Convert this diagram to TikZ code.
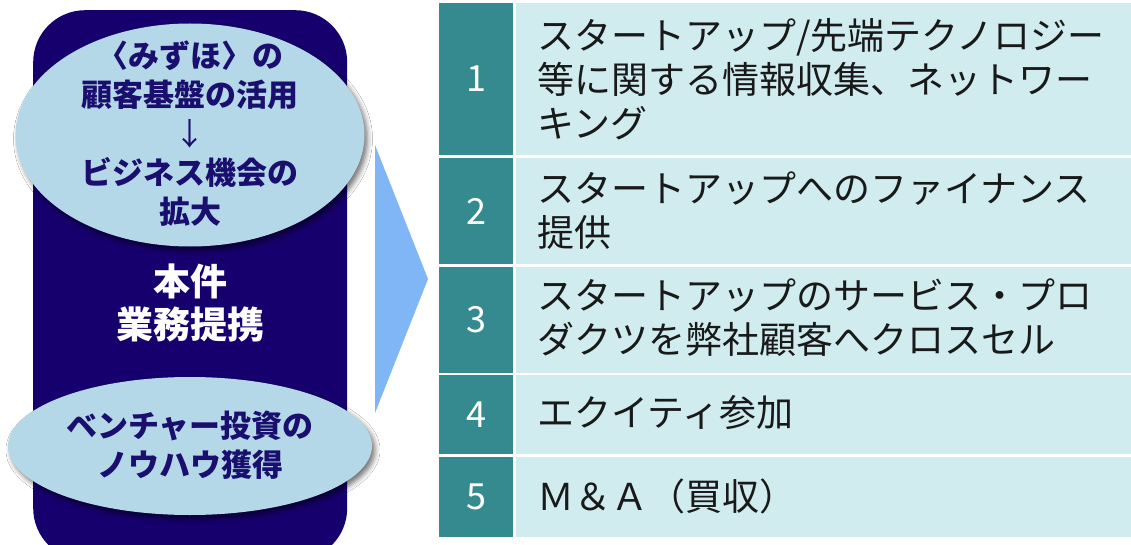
\documentclass[tikz,border=0pt]{standalone}
\usepackage{fontspec}
\setmainfont{Noto Sans CJK JP}
\usetikzlibrary{shapes.geometric,shadows.blur}
\definecolor{navy}{RGB}{22,0,110}
\definecolor{ellblue}{RGB}{180,216,232}
\definecolor{ellink}{RGB}{26,14,110}
\definecolor{tealc}{RGB}{53,138,143}
\definecolor{cellbg}{RGB}{208,236,239}
\definecolor{tric}{RGB}{128,182,245}
\definecolor{ink}{RGB}{25,25,25}
\tikzset{
  darkbox/.style={fill=navy, rounded corners=52pt, inner sep=0pt},
  bubble/.style={ellipse, fill=ellblue, inner sep=0pt,
     blur shadow={shadow xshift=3pt, shadow yshift=-4pt, shadow blur radius=5pt, shadow opacity=55}},
  bubbletext/.style={align=center, text=ellink, inner sep=0pt,
     font=\bfseries\fontsize{31}{39}\selectfont},
  coretext/.style={text=white, align=center, font=\bfseries\fontsize{37}{43}\selectfont},
  numcell/.style={fill=tealc, minimum width=74pt, inner sep=0pt, text=white,
     font=\fontsize{36}{40}\selectfont},
  txtcell/.style={fill=cellbg, minimum width=620pt, inner sep=0pt, anchor=west},
  rowtext/.style={anchor=west, align=left, inner sep=0pt, text=ink,
     font=\fontsize{37}{44}\selectfont},
}
\begin{document}
\begin{tikzpicture}[x=1pt,y=-1pt]
\useasboundingbox (0,0) rectangle (1131,545);
\fill[white] (0,0) rectangle (1131,545);
\clip (0,0) rectangle (1131,545);
% left panel
\node[darkbox, minimum width=314pt, minimum height=550pt, anchor=north west] (box) at (33,10) {};
\node[coretext] (core) at (190,303) {本件\\業務提携};
% arrow triangle
\fill[tric] (375,145) -- (428,279) -- (375,413) -- cycle;
\node[bubble, minimum width=349pt, minimum height=223pt] (top) at (190,135) {};
\node[bubbletext] (toptext) at (190,134) {〈みずほ〉の\\顧客基盤の活用\\{\mdseries ↓}\\ビジネス機会の\\拡大};
\node[bubble, minimum width=364pt, minimum height=138pt] (bot) at (190,446) {};
\node[bubbletext] (bottext) at (190,445) {ベンチャー投資の\\ノウハウ獲得};
% table
\node[numcell, minimum height=152pt] (n1) at (476,79) {1};
\node[numcell, minimum height=106pt] (n2) at (476,211) {2};
\node[numcell, minimum height=106pt] (n3) at (476,320) {3};
\node[numcell, minimum height=79pt] (n4) at (476,414.5) {4};
\node[numcell, minimum height=80pt] (n5) at (476,497) {5};
\node[txtcell, minimum height=152pt] (c1) at (516,79) {};
\node[txtcell, minimum height=106pt] (c2) at (516,211) {};
\node[txtcell, minimum height=106pt] (c3) at (516,320) {};
\node[txtcell, minimum height=79pt] (c4) at (516,414.5) {};
\node[txtcell, minimum height=80pt] (c5) at (516,497) {};
\node[rowtext] (l1) at (537,79) {スタートアップ/先端テクノロジー\\等に関する情報収集、ネットワー\\キング};
\node[rowtext] (l2) at (537,211) {スタートアップへのファイナンス\\提供};
\node[rowtext] (l3) at (537,318) {スタートアップのサービス・プロ\\ダクツを弊社顧客へクロスセル};
\node[rowtext] (l4) at (537,413) {エクイティ参加};
\node[rowtext] (l5) at (537,496) {Ｍ＆Ａ（買収）};
\end{tikzpicture}
\end{document}
